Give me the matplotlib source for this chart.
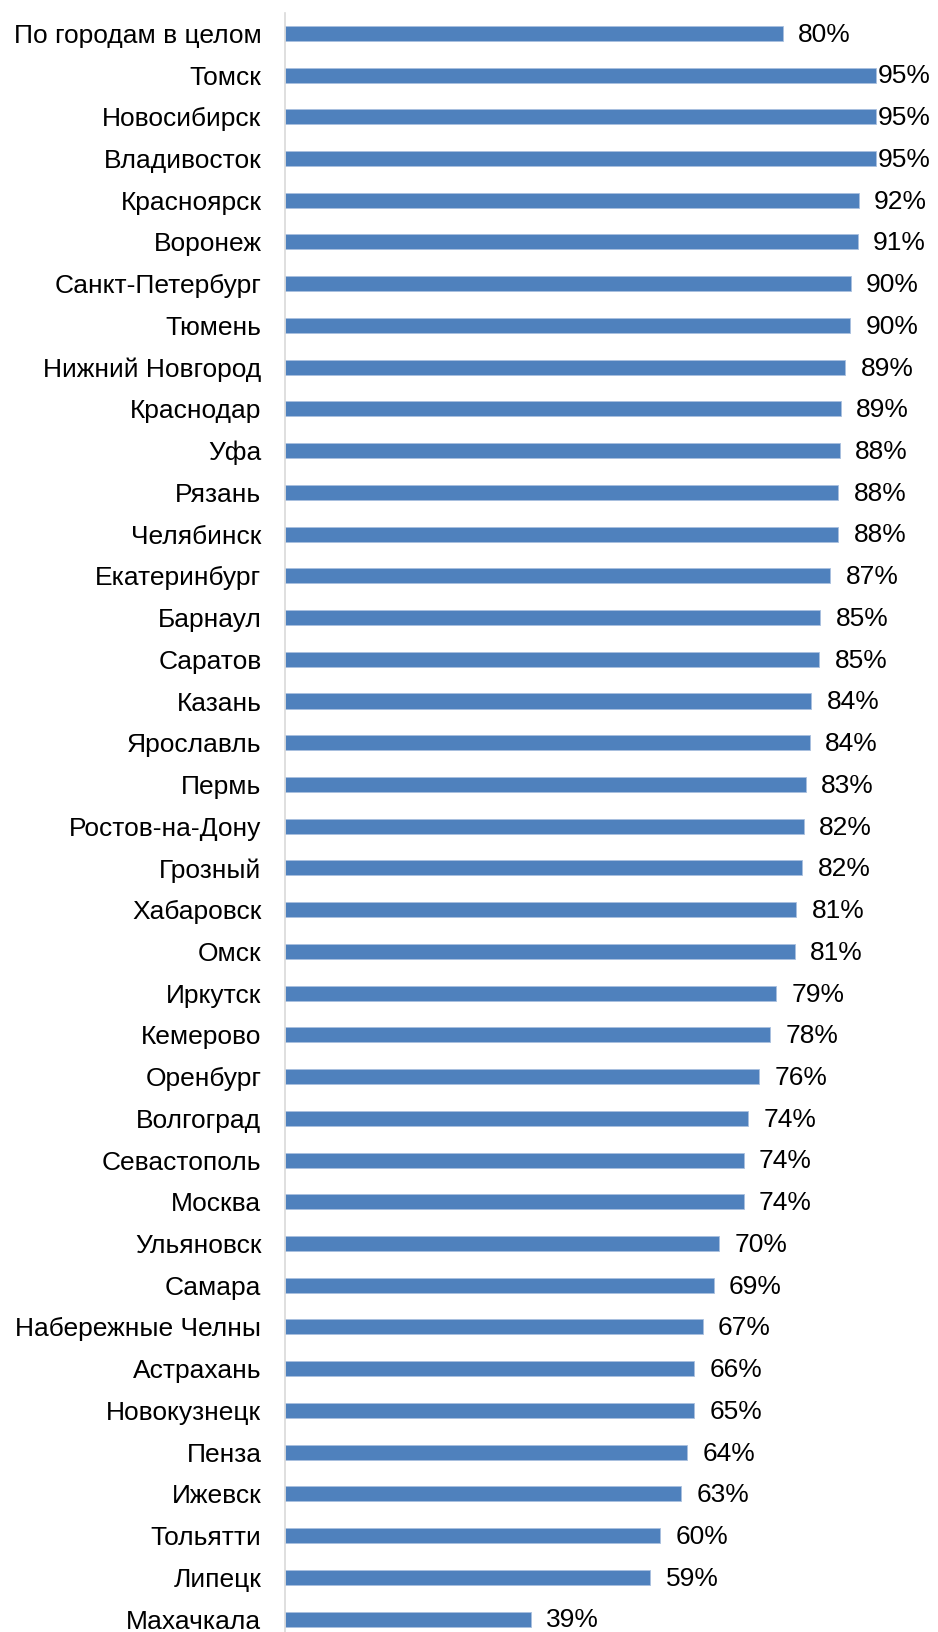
import matplotlib.pyplot as plt
import numpy as np

plt.rcParams['font.family'] = ['Liberation Sans', 'DejaVu Sans']

cities = [
    'По городам в целом', 'Томск', 'Новосибирск', 'Владивосток', 'Красноярск',
    'Воронеж', 'Санкт-Петербург', 'Тюмень', 'Нижний Новгород', 'Краснодар',
    'Уфа', 'Рязань', 'Челябинск', 'Екатеринбург', 'Барнаул', 'Саратов',
    'Казань', 'Ярославль', 'Пермь', 'Ростов-на-Дону', 'Грозный', 'Хабаровск',
    'Омск', 'Иркутск', 'Кемерово', 'Оренбург', 'Волгоград', 'Севастополь',
    'Москва', 'Ульяновск', 'Самара', 'Набережные Челны', 'Астрахань',
    'Новокузнецк', 'Пенза', 'Ижевск', 'Тольятти', 'Липецк', 'Махачкала',
]
shares = [
    80.2, 95.3, 95.3, 95.3, 92.5, 92.3, 91.2, 91.1, 90.3, 89.6,
    89.4, 89.2, 89.2, 87.9, 86.3, 86.1, 84.8, 84.6, 83.9, 83.6,
    83.4, 82.4, 82.2, 79.2, 78.2, 76.4, 74.6, 73.9, 73.9, 70.0,
    69.1, 67.3, 65.9, 65.9, 64.8, 63.9, 60.5, 58.9, 39.6,
]
value_labels = [
    '80%', '95%', '95%', '95%', '92%', '91%', '90%', '90%', '89%', '89%',
    '88%', '88%', '88%', '87%', '85%', '85%', '84%', '84%', '83%', '82%',
    '82%', '81%', '81%', '79%', '78%', '76%', '74%', '74%', '74%', '70%',
    '69%', '67%', '66%', '65%', '64%', '63%', '60%', '59%', '39%',
]

W, H = 938, 1632
fig = plt.figure(figsize=(W / 100, H / 100), dpi=100)
ax = fig.add_axes([285 / W, 0, 620.5 / W, (H - 13) / H])

y = np.arange(len(cities))
ax.barh(y, shares, height=0.36, color='#4F81BD', edgecolor='#A9C0DF', linewidth=0.6)

ax.set_ylim(len(cities) - 1 + 0.31, -0.487)
ax.set_xlim(0, 100)
ax.set_yticks(y)
ax.set_yticklabels(cities, fontsize=19)
ax.tick_params(axis='y', length=0, pad=17)
ax.set_xticks([])

for s in ['top', 'right', 'bottom']:
    ax.spines[s].set_visible(False)
ax.spines['left'].set_color('#D9D9D9')
ax.spines['left'].set_linewidth(1.2)

for yi, v, lab in zip(y, shares, value_labels):
    off = 1.0 if v > 94 else 11
    ax.annotate(lab, (v, yi), xytext=(off, -1), textcoords='offset points',
                va='center', ha='left', fontsize=19, annotation_clip=False)

fig.savefig('out.png', dpi=100)
